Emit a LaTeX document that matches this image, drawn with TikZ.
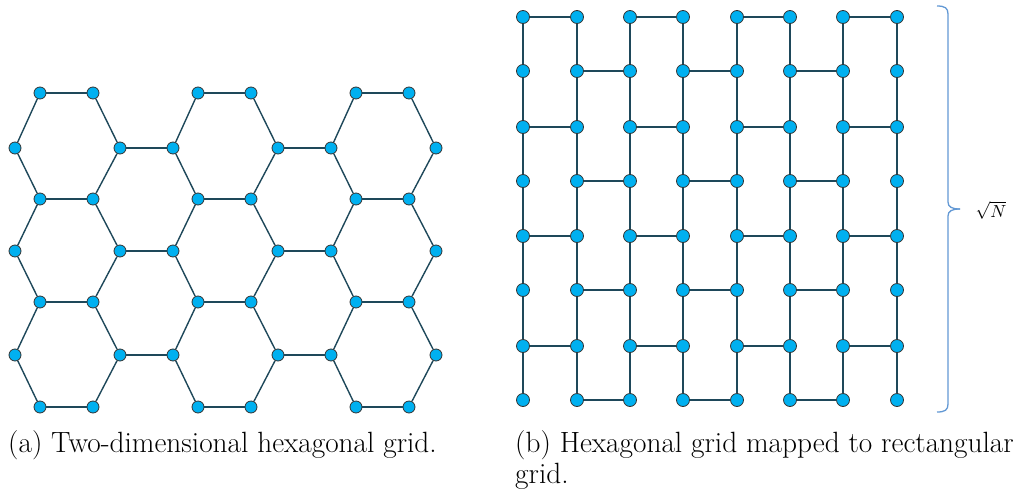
\documentclass[tikz,border=0pt]{standalone}
\usepackage{fontspec}
\usepackage{graphicx}
\usepackage{tikz}
\definecolor{nodefill}{RGB}{0,176,240}
\definecolor{edgecol}{RGB}{30,72,90}
\definecolor{bracecol}{RGB}{98,152,212}
\begin{document}
\begin{tikzpicture}[x=1pt,y=-1pt,
  hv/.style={circle,draw=black!80,line width=0.8pt,fill=nodefill,inner sep=0pt,minimum size=12pt},
  rv/.style={circle,draw=black!80,line width=0.8pt,fill=nodefill,inner sep=0pt,minimum size=13pt},
  ed/.style={draw=edgecol,line width=1.4pt},
  bracestyle/.style={draw=bracecol,line width=1.3pt},
  captext/.style={font=\fontsize{29.3}{33}\selectfont,inner sep=0pt}]
\useasboundingbox (0,0) rectangle (1023,493);
% ---- left: hexagonal grid ----
\foreach \g/\dx in {0/0,1/158,2/316} {
  \foreach \r/\y in {0/93,2/199,4/302,6/407} {
    \node[hv] (a\g-\r) at (40+\dx,\y) {};
    \node[hv] (b\g-\r) at (93+\dx,\y) {};
  }
  \foreach \r/\y in {1/148,3/251,5/355} {
    \node[hv] (l\g-\r) at (15+\dx,\y) {};
    \node[hv] (r\g-\r) at (120+\dx,\y) {};
  }
}
\foreach \g in {0,1,2} {
  \foreach \r in {0,2,4,6} \draw[ed] (a\g-\r) -- (b\g-\r);
  \foreach \r/\p/\n in {1/0/2,3/2/4,5/4/6} {
    \draw[ed] (a\g-\p) -- (l\g-\r);
    \draw[ed] (l\g-\r) -- (a\g-\n);
    \draw[ed] (b\g-\p) -- (r\g-\r);
    \draw[ed] (r\g-\r) -- (b\g-\n);
  }
}
\foreach \g/\h in {0/1,1/2} \foreach \r in {1,3,5} \draw[ed] (r\g-\r) -- (l\h-\r);
% ---- right: rectangular grid ----
\foreach \c/\x in {0/523,1/577,2/630,3/683,4/737,5/790,6/843,7/897} {
  \foreach \r/\y in {0/17,1/71,2/127,3/181,4/236,5/290,6/346,7/400} {
    \node[rv] (q\c-\r) at (\x,\y) {};
  }
}
\foreach \c in {0,...,7} \foreach \r/\s in {0/1,1/2,2/3,3/4,4/5,5/6,6/7} \draw[ed] (q\c-\r) -- (q\c-\s);
\foreach \r in {0,2,4,6} \foreach \a/\b in {0/1,2/3,4/5,6/7} \draw[ed] (q\a-\r) -- (q\b-\r);
\foreach \r in {1,3,5,7} \foreach \a/\b in {1/2,3/4,5/6} \draw[ed] (q\a-\r) -- (q\b-\r);
% ---- brace ----
\coordinate (tip) at (960,209);
\draw[bracestyle] (937,6) .. controls (945,6) and (948,8) .. (948,14) -- (948,202)
  .. controls (948,207) and (952,209) .. (tip);
\draw[bracestyle] (937,412) .. controls (945,412) and (948,410) .. (948,404) -- (948,216)
  .. controls (948,211) and (952,209) .. (tip);
\node[inner sep=0pt] (lab) at (991,210) {\scalebox{1.75}{$\sqrt{N}$}};
% ---- captions ----
\node[captext,anchor=base west] (capa) at (8,452) {(a) Two-dimensional hexagonal grid.};
\node[captext,anchor=base west] (capb) at (515,452) {(b) Hexagonal grid mapped to rectangular};
\node[captext,anchor=base west] (capc) at (515,483) {grid.};
\end{tikzpicture}
\end{document}
